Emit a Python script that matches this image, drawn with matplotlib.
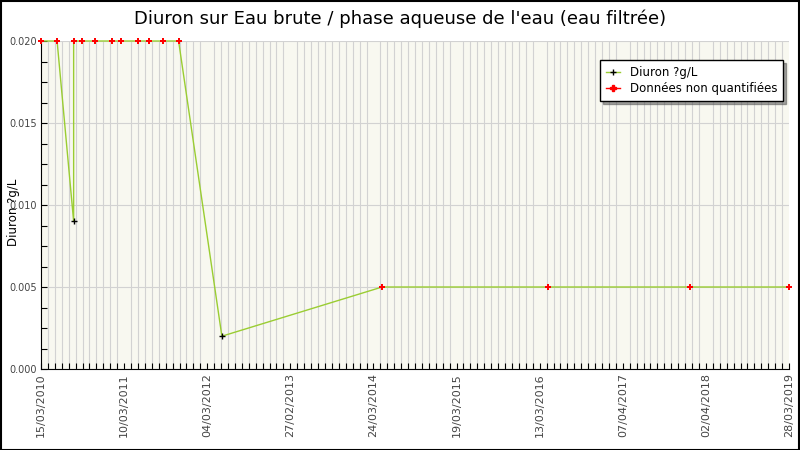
import numpy as np
import matplotlib
matplotlib.use("Agg")
import matplotlib.pyplot as plt
import matplotlib.dates as mdates
from matplotlib.lines import Line2D
from matplotlib.patches import Rectangle

# data
dates = ["2010-03-15", "2010-05-25", "2010-08-06", "2010-08-06", "2010-09-13",
         "2010-11-09", "2011-01-23", "2011-03-04", "2011-05-18", "2011-07-06",
         "2011-09-05", "2011-11-12", "2012-05-21", "2014-04-28", "2016-04-27",
         "2018-01-17", "2019-03-28"]
values = [0.020, 0.020, 0.009, 0.020, 0.020,
          0.020, 0.020, 0.020, 0.020, 0.020,
          0.020, 0.020, 0.002, 0.005, 0.005,
          0.005, 0.005]
quantified = [False, False, True, False, False,
              False, False, False, False, False,
              False, False, True, False, False,
              False, False]

xtick_labels = ["15/03/2010", "10/03/2011", "04/03/2012", "27/02/2013", "24/03/2014",
                "19/03/2015", "13/03/2016", "07/04/2017", "02/04/2018", "28/03/2019"]
yticks = [0.000, 0.005, 0.010, 0.015, 0.020]

title = "Diuron sur Eau brute / phase aqueuse de l'eau (eau filtrée)"
ylabel = "Diuron ?g/L"
series_names = ["Diuron ?g/L", "Données non quantifiées"]

line_col = "#9acd32"
grid_col = "#d2d2d2"

x = mdates.datestr2num(dates)
y = np.array(values)
q = np.array(quantified)

fig = plt.figure(figsize=(8, 4.5), dpi=100)
ax = fig.add_axes([41/800, 1-369/450, 748/800, 328/450])
ax.set_facecolor("#f8f8f0")

ax.plot(x, y, color=line_col, lw=1, zorder=3, clip_on=False)
ax.plot(x[q], y[q], "+", color="k", ms=4, mew=1, zorder=4, clip_on=False)
ax.plot(x[~q], y[~q], "P", color="red", ms=5, mew=0, zorder=4, clip_on=False)

x0 = mdates.datestr2num("2010-03-15")
x1 = mdates.datestr2num("2019-03-28")
ax.set_xlim(x0, x1)
ax.set_ylim(0, 0.02)

ax.set_xticks(np.linspace(x0, x1, len(xtick_labels)))
ax.set_xticklabels(xtick_labels, rotation=90, fontsize=8, color="#444444")
ax.set_xticks(np.linspace(x0, x1, 12*(len(xtick_labels)-1)+1), minor=True)
ax.set_yticks(yticks)
ax.set_yticklabels(["%.3f" % v for v in yticks], fontsize=7, color="#444444")
ax.set_yticks(np.arange(0, 0.0201, 0.00125), minor=True)

ax.tick_params(axis="both", which="both", direction="in", length=4, width=0.8, color="k", pad=3)
ax.grid(True, axis="x", which="minor", color=grid_col, lw=0.8, zorder=0)
ax.grid(True, axis="y", which="major", color=grid_col, lw=0.8, zorder=0)
ax.set_axisbelow(True)

for s in ["top", "right"]:
    ax.spines[s].set_visible(False)
ax.spines["left"].set_color("k")
ax.spines["bottom"].set_color("k")

fig.text(14/800, 1-212/450, ylabel, rotation=90, ha="center", va="center", fontsize=8.5)
fig.text(0.5, 0.958, title, ha="center", va="center", fontsize=13)

handles = [Line2D([], [], color=line_col, marker="+", mec="k", ms=4, lw=1),
           Line2D([], [], color="red", marker="P", mec="red", ms=5, lw=1)]
leg = ax.legend(handles, series_names, loc="upper right", bbox_to_anchor=(0.992, 0.942),
                borderaxespad=0, fontsize=8.5, fancybox=False, shadow=True, framealpha=1,
                edgecolor="k", handlelength=1.2, borderpad=0.5, labelspacing=0.3)
leg.get_frame().set_linewidth(1)

# outer frame
fig.patches.append(Rectangle((0.001, 0.001), 0.998, 0.997, transform=fig.transFigure,
                             fill=False, edgecolor="k", lw=1.5))

fig.savefig("out.png", dpi=100)
